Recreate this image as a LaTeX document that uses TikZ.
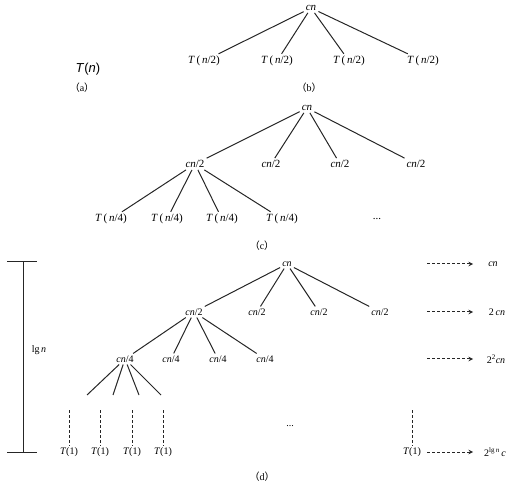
\documentclass[tikz,border=0pt]{standalone}
\usepackage{fontspec}
\setmainfont{Liberation Serif}
\setsansfont{Liberation Sans}
\newfontfamily\cjk{Noto Sans CJK SC}
\usetikzlibrary{arrows, positioning}
\newcommand{\Tof}[1]{\textit{T}\,(\,#1)}
\newcommand{\cpar}[1]{{\cjk （}#1{\cjk ）}}
\tikzset{
    treenode/.style={inner sep=2pt, font=\fontsize{11}{13}\selectfont},
    smallnode/.style={inner sep=2pt, font=\fontsize{10}{12}\selectfont},
    caption/.style={inner sep=1pt, font=\fontsize{10}{12}\selectfont},
    branch/.style={line width=1pt, draw=black!85},
    dashline/.style={line width=1pt, draw=black!85, dash pattern=on 3pt off 2pt},
    arrow/.style={line width=1pt, draw=black!85, dash pattern=on 3pt off 2pt, ->, >=stealth}
}
\begin{document}
\begin{tikzpicture}[x=1pt, y=-1pt]
    \useasboundingbox (0,0) rectangle (515,484);
    % (a)
    \node (tn) [inner sep=1pt, font=\sffamily\fontsize{13}{15}\selectfont] at (88,69) {\textit{T}(\textit{n})};
    \node (capa) [caption] at (82,88) {\cpar{a}};
    % (b)
    \node (broot) [treenode] at (311,8) {\textit{cn}};
    \node (b1) [treenode] at (204,61) {\Tof{\textit{n}/2}};
    \node (b2) [treenode] at (277,61) {\Tof{\textit{n}/2}};
    \node (b3) [treenode] at (349,61) {\Tof{\textit{n}/2}};
    \node (b4) [treenode] at (423,61) {\Tof{\textit{n}/2}};
    \node (capb) [caption] at (309,88) {\cpar{b}};
    \foreach \i in {1,...,4}
        \draw [branch] (broot) -- (b\i);
    % (c)
    \node (croot) [treenode] at (307,108) {\textit{cn}};
    \node (c1) [treenode] at (195,164) {\textit{cn}/2};
    \node (c2) [treenode] at (271,164) {\textit{cn}/2};
    \node (c3) [treenode] at (340,164) {\textit{cn}/2};
    \node (c4) [treenode] at (416,164) {\textit{cn}/2};
    \node (c11) [treenode] at (111,219) {\Tof{\textit{n}/4}};
    \node (c12) [treenode] at (167,219) {\Tof{\textit{n}/4}};
    \node (c13) [treenode] at (222,219) {\Tof{\textit{n}/4}};
    \node (c14) [treenode] at (282,219) {\Tof{\textit{n}/4}};
    \node (cdots) [treenode] at (377,219) {...};
    \node (capc) [caption] at (262,246) {\cpar{c}};
    \foreach \i in {1,...,4} {
        \draw [branch] (croot) -- (c\i);
        \draw [branch] (c1) -- (c1\i);
    }
    % (d)
    \node (droot) [smallnode] at (287,264) {\textit{cn}};
    \node (d1) [smallnode] at (194,312) {\textit{cn}/2};
    \node (d2) [smallnode] at (257,312) {\textit{cn}/2};
    \node (d3) [smallnode] at (319,312) {\textit{cn}/2};
    \node (d4) [smallnode] at (380,312) {\textit{cn}/2};
    \node (d11) [smallnode] at (125,359) {\textit{cn}/4};
    \node (d12) [smallnode] at (171,359) {\textit{cn}/4};
    \node (d13) [smallnode] at (218,359) {\textit{cn}/4};
    \node (d14) [smallnode] at (265,359) {\textit{cn}/4};
    \coordinate (e1) at (87,395);
    \coordinate (e2) at (113,395);
    \coordinate (e3) at (139,395);
    \coordinate (e4) at (161,395);
    \foreach \i in {1,...,4} {
        \draw [branch] (droot) -- (d\i);
        \draw [branch] (d1) -- (d1\i);
        \draw [branch] (d11) -- (e\i);
    }
    % leaves
    \foreach \n/\x in {1/69, 2/100, 3/132, 4/163, 5/412} {
        \node (t\n) [smallnode] at (\x,452) {\textit{T}(1)};
        \coordinate (u\n) at (\x,410);
        \draw [dashline] (u\n) -- (t\n.north);
    }
    \node (ddots) [smallnode] at (290,426) {...};
    % height bracket
    \coordinate (htop) at (23,262);
    \coordinate (hbot) at (23,452);
    \coordinate (htl) at (7,262);
    \coordinate (htr) at (37,262);
    \coordinate (hbl) at (7,452);
    \coordinate (hbr) at (37,452);
    \draw [branch] (htop) -- (hbot);
    \draw [branch] (htl) -- (htr);
    \draw [branch] (hbl) -- (hbr);
    \node (lgn) [smallnode] at (39,350) {lg\,\textit{n}};
    % level costs
    \node (r1) [smallnode] at (493,264) {\textit{cn}};
    \node (r2) [smallnode] at (497,312) {2\,\textit{cn}};
    \node (r3) [smallnode] at (496,359) {2\textsuperscript{2}\textit{cn}};
    \node (r4) [smallnode] at (495,452) {2\textsuperscript{lg\,\textit{n}}\,\textit{c}};
    \foreach \k/\y in {1/264, 2/312, 3/359, 4/452} {
        \coordinate (s\k) at (427,\y);
        \coordinate (f\k) at (473,\y);
        \draw [arrow] (s\k) -- (f\k);
    }
    \node (capd) [caption] at (262,477) {\cpar{d}};
\end{tikzpicture}
\end{document}
